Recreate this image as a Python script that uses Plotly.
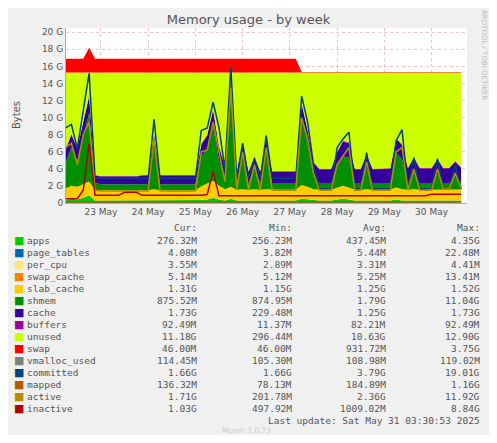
import pandas as pd
import plotly.graph_objects as go

# 3-hourly samples, 22 May 18:00 .. 31 May 03:00 (values in GB)
times = pd.date_range("2025-05-22 18:00", "2025-05-31 03:00", freq="3h")
TOTAL = 15.3

apps = [0.3, 0.5,
        0.4, 0.6, 0.9, 0.3, 0.28, 0.28, 0.28, 0.28,
        0.28, 0.28, 0.28, 0.28, 0.28, 0.3, 0.28, 0.28,
        0.28, 0.28, 0.28, 0.28, 0.28, 0.35, 0.4, 0.6,
        0.4, 0.3, 0.5, 0.28, 0.3, 0.28, 0.3, 0.28,
        0.3, 0.28, 0.28, 0.28, 0.28, 0.28, 0.5, 0.4,
        0.3, 0.28, 0.28, 0.28, 0.4, 0.5, 0.4, 0.28,
        0.28, 0.3, 0.28, 0.28, 0.28, 0.28, 0.4, 0.3,
        0.28, 0.3, 0.28, 0.28, 0.28, 0.3, 0.28, 0.28,
        0.3, 0.28]
page_tables = [0.005] * len(times)
per_cpu = [0.0035] * len(times)
swap_cache = [0.005] * len(times)
slab_cache = [1.4, 1.5,
              1.5, 1.6, 1.6, 1.2, 1.2, 1.2, 1.2, 1.2,
              1.2, 1.2, 1.2, 1.2, 1.2, 1.3, 1.2, 1.2,
              1.2, 1.2, 1.2, 1.2, 1.2, 1.6, 1.9, 2.0,
              1.6, 1.3, 1.4, 1.25, 1.3, 1.25, 1.3, 1.25,
              1.3, 1.25, 1.25, 1.25, 1.25, 1.25, 1.6, 1.5,
              1.3, 1.25, 1.25, 1.25, 1.4, 1.5, 1.4, 1.25,
              1.25, 1.3, 1.25, 1.25, 1.25, 1.25, 1.4, 1.3,
              1.25, 1.3, 1.25, 1.25, 1.25, 1.3, 1.25, 1.25,
              1.3, 1.3]
shmem = [3.0, 4.5,
         3.0, 5.5, 8.0, 0.8, 0.7, 0.7, 0.7, 0.7,
         0.7, 0.7, 0.7, 0.7, 0.7, 5.5, 0.7, 0.7,
         0.7, 0.7, 0.7, 0.7, 0.7, 3.5, 4.0, 6.5,
         3.0, 1.2, 11.0, 0.8, 4.0, 0.8, 2.5, 0.8,
         4.5, 0.8, 0.8, 0.8, 0.8, 0.8, 8.0, 5.0,
         1.5, 0.8, 0.8, 0.8, 2.5, 3.5, 3.5, 0.8,
         0.8, 2.5, 0.8, 0.8, 0.8, 0.8, 4.0, 3.5,
         0.8, 2.0, 0.8, 0.8, 0.8, 1.8, 0.8, 0.8,
         1.5, 0.8]
cache = [1.5, 1.5,
         1.5, 1.8, 2.0, 0.9, 0.9, 0.9, 0.9, 0.9,
         0.9, 0.9, 0.9, 1.0, 1.0, 1.0, 1.0, 1.0,
         1.0, 1.0, 1.0, 1.0, 1.0, 1.4, 1.6, 1.8,
         1.6, 1.4, 1.6, 1.3, 1.3, 1.3, 1.3, 1.3,
         1.3, 1.3, 1.3, 1.3, 1.3, 1.3, 1.5, 1.6,
         1.6, 1.6, 1.6, 1.6, 1.6, 1.7, 1.7, 1.6,
         1.6, 1.6, 1.6, 1.6, 1.65, 1.65, 1.7, 1.7,
         1.7, 1.7, 1.7, 1.7, 1.7, 1.7, 1.7, 1.72,
         1.72, 1.73]
buffers = [0.08] * len(times)
swap = [1.6, 1.6,
        1.6, 1.6, 2.9, 1.6, 1.6, 1.6, 1.6, 1.6,
        1.6, 1.6, 1.6, 1.6, 1.6, 1.6, 1.6, 1.6,
        1.6, 1.6, 1.6, 1.6, 1.6, 1.6, 1.6, 1.6,
        1.6, 1.6, 1.6, 1.6, 1.6, 1.6, 1.6, 1.6,
        1.6, 1.6, 1.6, 1.6, 1.6, 1.6, 0.046, 0.046] + [0.046] * 26

vmalloc_used = [0.11] * len(times)
committed = [8.8, 9.2,
             6.4, 11.0, 15.2, 3.0, 2.9, 2.9, 2.9, 2.9,
             2.9, 2.9, 2.9, 2.9, 2.9, 9.8, 2.9, 2.9,
             2.9, 2.9, 2.9, 2.9, 2.9, 8.5, 8.8, 11.8,
             8.8, 4.0, 15.9, 2.9, 7.0, 2.9, 5.2, 2.9,
             7.9, 2.9, 2.9, 2.9, 2.9, 2.9, 12.5, 9.5,
             4.5, 1.66, 1.66, 1.66, 6.5, 7.5, 8.3, 1.66,
             1.66, 5.9, 1.66, 1.66, 1.66, 1.66, 7.3, 8.6,
             1.66, 5.3, 1.66, 1.66, 1.66, 5.2, 1.66, 1.66,
             4.5, 1.66]
mapped = [0.15] * len(times)
active = [6.5, 7.0,
          4.5, 8.0, 9.5, 1.5, 1.4, 1.4, 1.4, 1.4,
          1.4, 1.4, 1.4, 1.4, 1.4, 7.5, 1.4, 1.4,
          1.4, 1.4, 1.4, 1.4, 1.4, 6.0, 6.2, 9.5,
          6.0, 2.5, 13.5, 1.5, 6.0, 1.5, 4.5, 1.5,
          6.5, 1.5, 1.5, 1.5, 1.5, 1.5, 10.0, 7.5,
          3.5, 1.5, 1.5, 1.5, 4.5, 5.5, 6.5, 1.5,
          1.5, 4.8, 1.5, 1.5, 1.5, 1.5, 6.0, 6.5,
          1.5, 4.0, 1.5, 1.5, 1.5, 4.0, 1.6, 1.7,
          3.5, 1.71]
inactive = [0.5, 0.5,
            0.5, 1.5, 7.0, 0.9, 0.9, 0.9, 0.9, 0.9,
            1.25, 1.25, 1.25, 0.9, 0.9, 0.9, 0.9, 0.9,
            0.9, 0.9, 0.9, 0.9, 0.9, 0.9, 1.0, 3.7,
            0.85, 0.85, 0.85, 0.85, 0.85, 0.85, 0.85, 0.85,
            0.85, 0.85, 0.85, 0.85, 0.85, 0.85, 0.85, 0.85,
            0.85, 0.85, 0.85, 0.85, 0.85, 0.85, 0.85, 0.85,
            0.85, 0.85, 0.85, 0.85, 0.85, 0.85, 0.85, 0.85,
            0.85, 0.85, 0.85, 0.85, 1.03, 1.03, 1.03, 1.03,
            1.03, 1.03]

used_parts = [apps, page_tables, per_cpu, swap_cache, slab_cache, shmem, cache, buffers]
unused = [TOTAL - sum(p[i] for p in used_parts) for i in range(len(times))]

stack_series = [
    ("apps", apps, "#00cc00"),
    ("page_tables", page_tables, "#0066b3"),
    ("per_cpu", per_cpu, "#ffe680"),
    ("swap_cache", swap_cache, "#ff8000"),
    ("slab_cache", slab_cache, "#ffcc00"),
    ("shmem", shmem, "#008f00"),
    ("cache", cache, "#330099"),
    ("buffers", buffers, "#990099"),
    ("unused", unused, "#ccff00"),
    ("swap", swap, "#ff0000"),
]
line_series = [
    ("vmalloc_used", vmalloc_used, "#808080"),
    ("committed", committed, "#004080"),
    ("mapped", mapped, "#b35a00"),
    ("active", active, "#b38f00"),
    ("inactive", inactive, "#b30000"),
]

legend_names = ["apps", "page_tables", "per_cpu", "swap_cache", "slab_cache", "shmem",
                "cache", "buffers", "unused", "swap", "vmalloc_used", "committed",
                "mapped", "active", "inactive"]
legend_colors = ["#00cc00", "#0066b3", "#ffe680", "#ff8000", "#ffcc00", "#008f00",
                 "#330099", "#990099", "#ccff00", "#ff0000", "#808080", "#004080",
                 "#b35a00", "#b38f00", "#b30000"]
cur = ["276.32M", "4.08M", "3.55M", "5.14M", "1.31G", "875.52M", "1.73G", "92.49M",
       "11.18G", "46.00M", "114.45M", "1.66G", "136.32M", "1.71G", "1.03G"]
mins = ["256.23M", "3.82M", "2.89M", "5.12M", "1.15G", "874.95M", "229.48M", "11.37M",
        "296.44M", "46.00M", "105.30M", "1.66G", "78.13M", "201.78M", "497.92M"]
avgs = ["437.45M", "5.44M", "3.31M", "5.25M", "1.25G", "1.79G", "1.25G", "82.21M",
        "10.63G", "931.72M", "108.98M", "3.79G", "184.89M", "2.36G", "1009.02M"]
maxs = ["4.35G", "22.48M", "4.41M", "13.41M", "1.52G", "11.04G", "1.73G", "92.49M",
        "12.90G", "3.75G", "119.02M", "19.01G", "1.16G", "11.92G", "8.84G"]

fig = go.Figure()
for name, vals, color in stack_series:
    fig.add_trace(go.Scatter(x=times, y=vals, name=name, stackgroup="mem",
                             mode="lines", line=dict(width=0, color=color),
                             fillcolor=color))
for name, vals, color in line_series:
    fig.add_trace(go.Scatter(x=times, y=vals, name=name, mode="lines",
                             line=dict(width=1.5, color=color)))

# page adds an 8px body margin, so the figure is drawn 16px smaller
OFF = 8
W, H = 497 - 2 * OFF, 443 - 2 * OFF
L, R, T, B = 66, 467, 28, 203  # plot area in window pixels


def px(x):
    return (x - L) / (R - L)


def py(y):
    return (B - y) / (B - T)


mono = dict(family="DejaVu Sans Mono", size=9.5, color="#555")
ann = []
cols = [199, 294, 388, 482]
for j, h in enumerate(["Cur:", "Min:", "Avg:", "Max:"]):
    ann.append(dict(x=px(cols[j]), y=py(227), text=h, xanchor="right"))
for i, name in enumerate(legend_names):
    y = py(240 + 12 * i)
    ann.append(dict(x=px(12), y=y, text="■", xanchor="left",
                    font=dict(family="DejaVu Sans", size=11, color=legend_colors[i])))
    ann.append(dict(x=px(25), y=y, text=name, xanchor="left"))
    for j, col in enumerate([cur, mins, avgs, maxs]):
        ann.append(dict(x=px(cols[j]), y=y, text=col[i], xanchor="right"))
ann.append(dict(x=px(482), y=py(420), text="Last update: Sat May 31 03:30:53 2025",
                xanchor="right"))
ann.append(dict(x=px(246), y=py(430), text="Munin 2.0.73", xanchor="center",
                font=dict(family="DejaVu Sans", size=7.5, color="#ccc")))
ann.append(dict(x=px(16), y=py(115), text="Bytes", textangle=-90, xanchor="center",
                font=dict(family="DejaVu Sans", size=10, color="#555")))
ann.append(dict(x=px(484), y=py(55), text="RRDTOOL / TOBI OETIKER", textangle=90,
                xanchor="center", font=dict(family="DejaVu Sans", size=7, color="#bbb")))
for a in ann:
    a.setdefault("font", mono)
    a.update(xref="paper", yref="paper", showarrow=False, yanchor="middle")

day_ticks = pd.date_range("2025-05-23 12:00", "2025-05-30 12:00", freq="1D")
fig.update_layout(
    width=W, height=H, showlegend=False,
    paper_bgcolor="#f0f0f0", plot_bgcolor="#ffffff",
    margin=dict(l=L - OFF, r=W - (R - OFF), t=T - OFF, b=H - (B - OFF), autoexpand=False),
    title=dict(text="Memory usage - by week", x=0.5, y=1 - (19 - OFF) / H,
               xanchor="center", yanchor="middle",
               font=dict(family="DejaVu Sans", size=13, color="#555")),
    annotations=ann,
    xaxis=dict(range=["2025-05-22 18:15", "2025-05-31 06:00"],
               tickvals=day_ticks, ticktext=[d.strftime("%d May") for d in day_ticks],
               showgrid=True, gridcolor="rgba(220,140,140,0.5)", griddash="dot",
               tickfont=dict(family="DejaVu Sans", size=9, color="#555"),
               showline=True, linecolor="#aaa", ticks="", zeroline=False),
    yaxis=dict(range=[0, 20.5], tickvals=list(range(0, 21, 2)),
               ticktext=["0"] + [f"{v} G" for v in range(2, 21, 2)],
               showgrid=True, gridcolor="rgba(220,140,140,0.5)", griddash="dot",
               tickfont=dict(family="DejaVu Sans", size=9, color="#555"),
               showline=True, linecolor="#aaa", zeroline=False),
)

fig.write_html("out.html")
